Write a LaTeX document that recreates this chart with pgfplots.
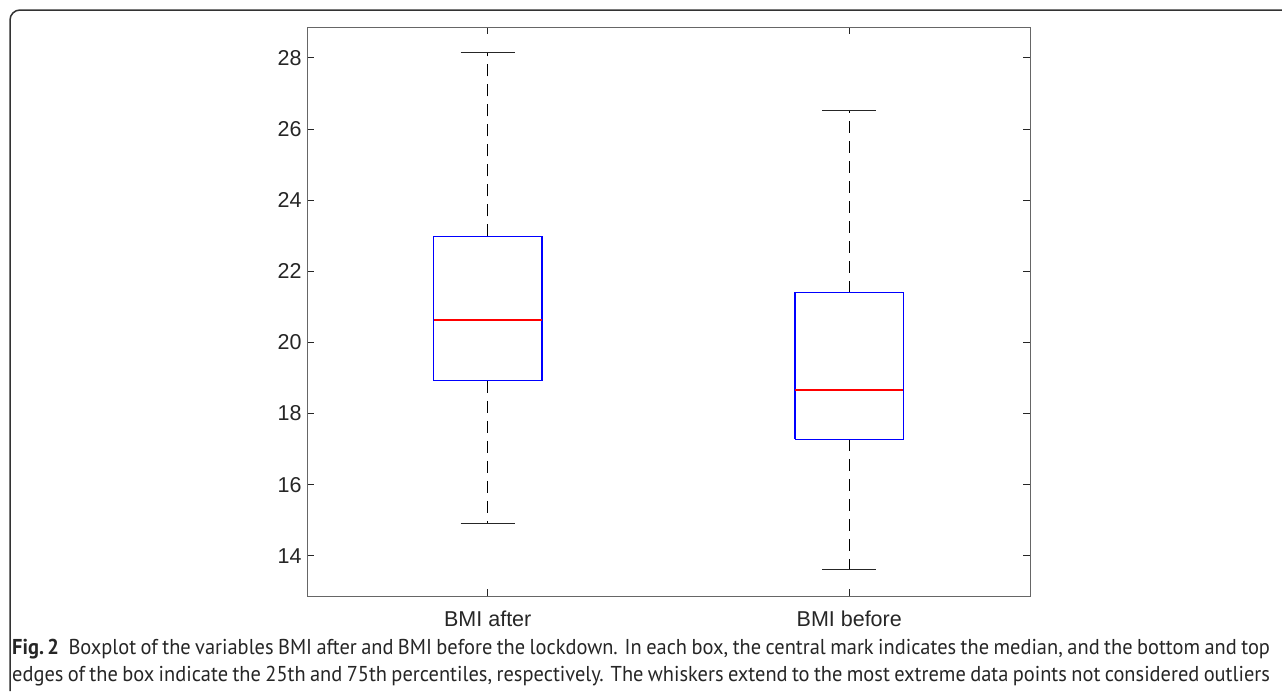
\documentclass[border=0pt]{standalone}
\usepackage{fontspec}
\setmainfont{Liberation Sans}
\newfontfamily\capfont{PT Sans}
\usepackage{graphicx}
\usepackage{pgfplots}
\pgfplotsset{compat=1.18}
\definecolor{mred}{RGB}{255,0,0}
\definecolor{mblue}{RGB}{0,0,255}
\definecolor{mgray}{RGB}{38,38,38}
\begin{document}
\begin{tikzpicture}
\useasboundingbox (0pt,0pt) rectangle (1282pt,-691pt);
\draw[line width=1.5pt, color=black!80] (1282pt,-10pt) -- (20pt,-10pt) arc[start angle=90,end angle=180,radius=10pt] -- (10pt,-691pt);
\begin{axis}[at={(307pt,-596pt)}, anchor=south west, scale only axis,
  width=723pt, height=569pt,
  xmin=0.5, xmax=2.5, ymin=12.87, ymax=28.87,
  xtick={1,2}, xticklabels={BMI after, BMI before},
  ytick={14,16,...,28},
  tick align=inside, major tick length=7pt,
  axis line style={color=black!60, line width=1pt},
  tick style={color=mgray, line width=1pt},
  ticklabel style={font=\fontsize{21.5}{24}\selectfont, text=mgray},
  /pgf/number format/assume math mode=true,
  xticklabel style={yshift=-11pt},
  yticklabel style={xshift=-2pt},
  clip=false]
% BMI after
\addplot[draw=black, line width=1.2pt, dash pattern=on 12pt off 8pt] coordinates {(1,22.98) (1,28.15)};
\addplot[draw=black, line width=1.2pt, dash pattern=on 12pt off 8pt] coordinates {(1,18.92) (1,14.92)};
\addplot[draw=mgray, line width=1.2pt] coordinates {(0.925,28.15) (1.075,28.15)};
\addplot[draw=mgray, line width=1.2pt] coordinates {(0.925,14.92) (1.075,14.92)};
\addplot[draw=mblue, line width=1.2pt] coordinates {(0.85,18.92) (1.15,18.92) (1.15,22.98) (0.85,22.98) (0.85,18.92)};
\addplot[draw=mred, line width=1.8pt] coordinates {(0.85,20.64) (1.15,20.64)};
% BMI before
\addplot[draw=black, line width=1.2pt, dash pattern=on 12pt off 8pt] coordinates {(2,21.40) (2,26.52)};
\addplot[draw=black, line width=1.2pt, dash pattern=on 12pt off 8pt] coordinates {(2,17.28) (2,13.61)};
\addplot[draw=mgray, line width=1.2pt] coordinates {(1.925,26.52) (2.075,26.52)};
\addplot[draw=mgray, line width=1.2pt] coordinates {(1.925,13.61) (2.075,13.61)};
\addplot[draw=mblue, line width=1.2pt] coordinates {(1.85,17.28) (2.15,17.28) (2.15,21.40) (1.85,21.40) (1.85,17.28)};
\addplot[draw=mred, line width=1.8pt] coordinates {(1.85,18.67) (2.15,18.67)};
\end{axis}
\node[anchor=base west, inner sep=0, text=black!85] at (12pt,-654pt) {\capfont\fontsize{21.5}{25}\selectfont\scalebox{0.95}[1]{\makebox[1324pt][s]{\textbf{Fig.\,2}\hspace{10pt}Boxplot of the variables BMI after and BMI before the lockdown. In each box, the central mark indicates the median, and the bottom and top}}};
\node[anchor=base west, inner sep=0, text=black!85] at (12pt,-681pt) {\capfont\fontsize{21.5}{25}\selectfont\scalebox{0.95}[1]{\makebox[1324pt][s]{edges of the box indicate the 25th and 75th percentiles, respectively. The whiskers extend to the most extreme data points not considered outliers}}};
\end{tikzpicture}
\end{document}
